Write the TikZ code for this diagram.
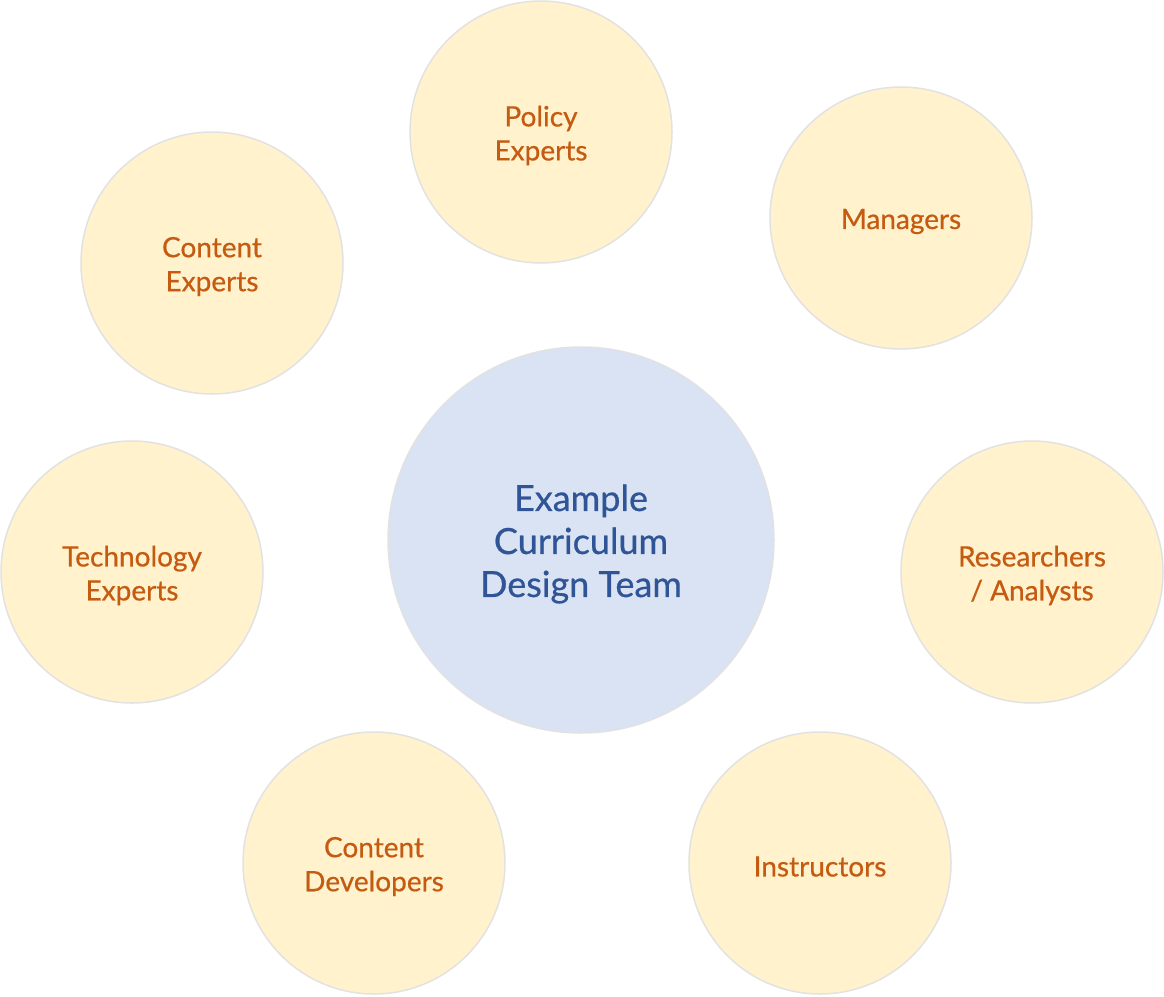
\documentclass[tikz,border=0pt]{standalone}
\usepackage{fontspec}
\setmainfont{Lato}
\newfontfamily\medfont{Lato}[FakeBold=0.6]
\definecolor{orangetxt}{HTML}{C55A11}
\definecolor{bluetxt}{HTML}{2F5597}
\definecolor{yellowfill}{HTML}{FFF2CC}
\definecolor{bluefill}{HTML}{DAE3F3}
\definecolor{ringgray}{HTML}{E2E2E2}
\tikzset{
  role/.style={circle, fill=yellowfill, draw=ringgray, line width=1.5pt, minimum size=262pt, inner sep=0pt},
  roletext/.style={text=orangetxt, align=center, inner sep=0pt, yshift=-3.5pt, font=\medfont\fontsize{28}{34}\selectfont},
  hub/.style={circle, fill=bluefill, draw=ringgray, line width=1.5pt, minimum size=386pt, inner sep=0pt},
  hubtext/.style={text=bluetxt, align=center, inner sep=0pt, yshift=-4pt, font=\medfont\fontsize{36}{43}\selectfont}
}
\begin{document}
\begin{tikzpicture}[x=1pt,y=1pt]
\useasboundingbox (0,0) rectangle (1164,-996);
\node[hub, label={[hubtext]center:Example\\Curriculum\\Design Team}] (center) at (581,-540) {};
\node[role, label={[roletext]center:Policy\\Experts}] (policy) at (541,-132) {};
\node[role, label={[roletext]center:Managers}] (managers) at (901,-218) {};
\node[role, label={[roletext]center:Content\\Experts}] (content) at (212,-263) {};
\node[role, label={[roletext]center:Technology\\Experts}] (tech) at (132,-572) {};
\node[role, label={[roletext]center:Researchers\\/ Analysts}] (research) at (1032,-572) {};
\node[role, label={[roletext]center:Content\\Developers}] (dev) at (374,-863) {};
\node[role, label={[roletext]center:Instructors}] (instr) at (820,-863) {};
\end{tikzpicture}
\end{document}
